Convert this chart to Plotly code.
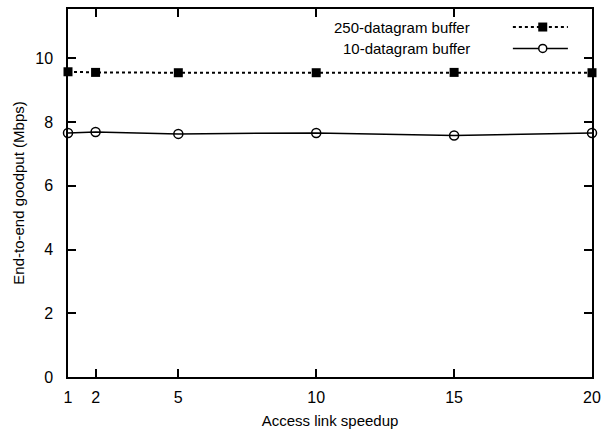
import plotly.graph_objects as go

# Access link speedup factors
speedup = [1, 2, 5, 10, 15, 20]
# End-to-end goodput (Mbps) for the two buffer sizes
goodput_250 = [9.58, 9.56, 9.55, 9.55, 9.56, 9.55]
goodput_10 = [7.66, 7.69, 7.63, 7.66, 7.58, 7.66]

series_names = ["250-datagram buffer", "10-datagram buffer"]
x_ticks = [1, 2, 5, 10, 15, 20]
y_ticks = [0, 2, 4, 6, 8, 10]

FONT = "Liberation Sans, Arial, sans-serif"
TEXT_SIZE = 15
TICK_SIZE = 16

fig = go.Figure()

fig.add_trace(go.Scatter(
    x=speedup, y=goodput_250, mode="lines+markers", name=series_names[0],
    line=dict(color="black", width=2, dash="dot"),
    marker=dict(symbol="square", size=9, color="black"),
    cliponaxis=False, showlegend=False,
))
fig.add_trace(go.Scatter(
    x=speedup, y=goodput_10, mode="lines+markers", name=series_names[1],
    line=dict(color="black", width=1.5),
    marker=dict(symbol="circle-open", size=9, color="black", line=dict(width=1.5)),
    cliponaxis=False, showlegend=False,
))

axis_common = dict(
    showline=True, linecolor="black", linewidth=1.5, mirror="ticks",
    ticks="inside", ticklen=8, tickwidth=1.5, tickcolor="black",
    showgrid=False, zeroline=False,
    tickfont=dict(family=FONT, size=TICK_SIZE, color="black"),
)

fig.update_xaxes(
    range=[1, 20], tickvals=x_ticks, ticktext=[str(v) for v in x_ticks],
    ticklabelstandoff=5,
    title=dict(text="Access link speedup", font=dict(family=FONT, size=TEXT_SIZE, color="black"), standoff=11),
    **axis_common,
)
fig.update_yaxes(
    range=[0, 11.55], tickvals=y_ticks, ticktext=[str(v) for v in y_ticks],
    ticklabelstandoff=10,
    title=dict(text="End-to-end goodput (Mbps)", font=dict(family=FONT, size=TEXT_SIZE, color="black"), standoff=7),
    **axis_common,
)

# Legend drawn as right-aligned labels followed by line samples
legend_rows = [
    (series_names[0], 0.951, "dot", "square"),
    (series_names[1], 0.893, "solid", "circle"),
]
annotations = []
shapes = []
for label, yp, dash, sym in legend_rows:
    annotations.append(dict(
        x=0.771, y=yp, xref="paper", yref="paper", text=label, showarrow=False,
        xanchor="right", yanchor="middle", font=dict(family=FONT, size=TEXT_SIZE, color="black"),
    ))
    shapes.append(dict(
        type="line", xref="paper", yref="paper", x0=0.849, x1=0.954, y0=yp, y1=yp,
        line=dict(color="black", width=2 if dash == "dot" else 1.5, dash=dash),
    ))
    if sym == "square":
        shapes.append(dict(
            type="rect", xref="paper", yref="paper", xsizemode="pixel", ysizemode="pixel",
            xanchor=0.906, yanchor=yp, x0=-4.5, x1=4.5, y0=-4.5, y1=4.5,
            fillcolor="black", line=dict(width=0),
        ))
    else:
        shapes.append(dict(
            type="circle", xref="paper", yref="paper", xsizemode="pixel", ysizemode="pixel",
            xanchor=0.906, yanchor=yp, x0=-4, x1=4, y0=-4, y1=4,
            fillcolor="white", line=dict(color="black", width=1.5),
        ))

fig.update_layout(
    width=608, height=436,
    margin=dict(l=68, r=16, t=7, b=59),
    paper_bgcolor="white", plot_bgcolor="white",
    font=dict(family=FONT, size=TEXT_SIZE, color="black"),
    annotations=annotations, shapes=shapes,
    showlegend=False,
)

fig.write_html("out.html")
